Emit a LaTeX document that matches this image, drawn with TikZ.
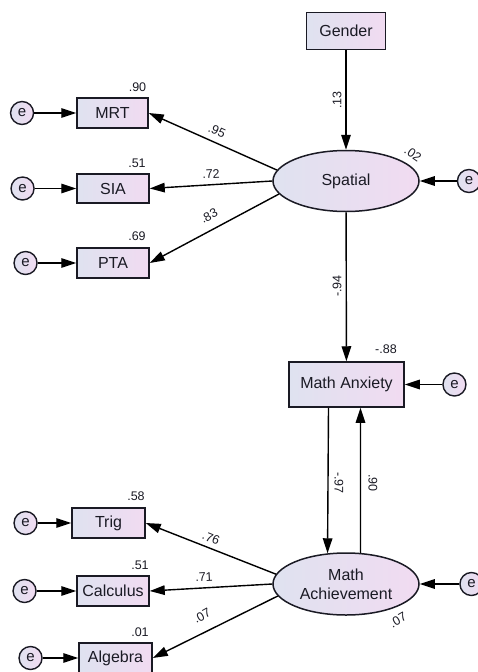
\documentclass[tikz,border=0pt]{standalone}
\usepackage{fontspec}
\setmainfont{Liberation Sans}
\usetikzlibrary{arrows.meta,positioning,shapes.geometric}
\definecolor{amosInk}{HTML}{1A1A24}
\definecolor{amosLeft}{HTML}{DFE2F0}
\definecolor{amosRight}{HTML}{F1DBF1}
\tikzset{
  reg/.style={-{Triangle[length=15pt,width=9.5pt]}, line width=1.4pt, draw=black},
  observed/.style={draw=amosInk, line width=1.5pt, left color=amosLeft,
    right color=amosRight, minimum width=72pt, minimum height=30pt,
    inner sep=0pt, font=\fontsize{16}{18}\selectfont, text=amosInk},
  latent/.style={ellipse, draw=amosInk, line width=1.5pt, left color=amosLeft,
    right color=amosRight, minimum width=146pt, minimum height=61pt,
    inner sep=0pt, align=center, font=\fontsize{16}{19}\selectfont,
    text=amosInk},
  error/.style={circle, draw=amosInk, line width=1.4pt, left color=amosLeft,
    right color=amosRight, minimum size=23pt, inner sep=0pt,
    font=\fontsize{15}{16}\selectfont, text=amosInk},
  coef/.style={inner sep=0pt, font=\fontsize{12.5}{14}\selectfont, text=amosInk}
}

\begin{document}
\begin{tikzpicture}[x=1pt, y=-1pt]
  \useasboundingbox (0,0) rectangle (477,672);
  % upper part
  \node[observed, minimum width=79pt, minimum height=37pt] (gender) at (346,31) {Gender};
  \node[latent] (spatial) at (346,181) {Spatial};
  \node[observed, minimum width=71pt] (mrt) at (112.5,113) {MRT};
  \node[observed, minimum height=29pt] (sia) at (113,188.5) {SIA};
  \node[observed] (pta) at (113,263) {PTA};
  \node[error, left=42pt of mrt] (emrt) {e};
  \node[error, left=41.5pt of sia] (esia) {e};
  \node[error, left=38.5pt of pta] (epta) {e};
  \node[error, right=37pt of spatial] (espatial) {e};
  % lower part
  \node[observed, minimum width=115pt, minimum height=45pt] (anxiety) at (346.5,384.5) {Math Anxiety};
  \node[latent, minimum height=62pt] (achieve) at (346,584) {Math\\Achievement};
  \node[observed, minimum width=73pt] (trig) at (108.5,523) {Trig};
  \node[observed] (calc) at (113,591) {Calculus};
  \node[observed, minimum width=73pt] (alg) at (115.5,658) {Algebra};
  \node[error, left=33.5pt of trig] (etrig) {e};
  \node[error, left=39.5pt of calc] (ecalc) {e};
  \node[error, left=35.5pt of alg] (ealg) {e};
  \node[error, right=37.5pt of anxiety] (eanxiety) {e};
  \node[error, right=39.5pt of achieve] (eachieve) {e};

  \draw[reg] (gender) -- (spatial);
  \draw[reg] (spatial.171) -- (mrt.east);
  \draw[reg] (spatial.west) -- (sia.east);
  \draw[reg] (spatial.191) -- (pta.east);
  \draw[reg] (emrt) -- (mrt);
  \draw[reg] (esia) -- (sia);
  \draw[reg] (epta) -- (pta);
  \draw[reg] (espatial) -- (spatial);
  \draw[reg] (spatial) -- (anxiety);
  \draw[reg] (eanxiety) -- (anxiety);
  \draw[reg] ([xshift=-18pt]anxiety.south) -- (achieve.121);
  \draw[reg] (achieve.65) -- ([xshift=14pt]anxiety.south);
  \draw[reg] (achieve.172) -- (trig.east);
  \draw[reg] (achieve.west) -- (calc.east);
  \draw[reg] (achieve.190) -- (alg.east);
  \draw[reg] (etrig) -- (trig);
  \draw[reg] (ecalc) -- (calc);
  \draw[reg] (ealg) -- (alg);
  \draw[reg] (eachieve) -- (achieve);

  % estimates
  \node[coef] (r2mrt) at (137.5,87) {.90};
  \node[coef] (r2sia) at (137,163) {.51};
  \node[coef] (r2pta) at (137,236) {.69};
  \node[coef, rotate=-24] (bmrt) at (217,131) {.95};
  \node[coef, rotate=3] (bsia) at (211,174) {.72};
  \node[coef, rotate=28] (bpta) at (209,216) {.83};
  \node[coef, rotate=90] (bgender) at (337,100) {.13};
  \node[coef, rotate=-35] (r2spatial) at (413,154) {.02};
  \node[coef, rotate=90] (bspatial) at (337,286) {-.94};
  \node[coef] (r2anxiety) at (386,349) {-.88};
  \node[coef, rotate=-90] (banxiety) at (339,483) {-.97};
  \node[coef, rotate=-90] (bachieve) at (373,483) {.90};
  \node[coef] (r2trig) at (136,496) {.58};
  \node[coef] (r2calc) at (140,565) {.51};
  \node[coef] (r2alg) at (140,632) {.01};
  \node[coef, rotate=-22] (btrig) at (211,538) {.76};
  \node[coef, rotate=3] (bcalc) at (204,577) {.71};
  \node[coef, rotate=29] (balg) at (202,616) {.07};
  \node[coef, rotate=30] (r2achieve) at (398,620) {.07};
\end{tikzpicture}
\end{document}
